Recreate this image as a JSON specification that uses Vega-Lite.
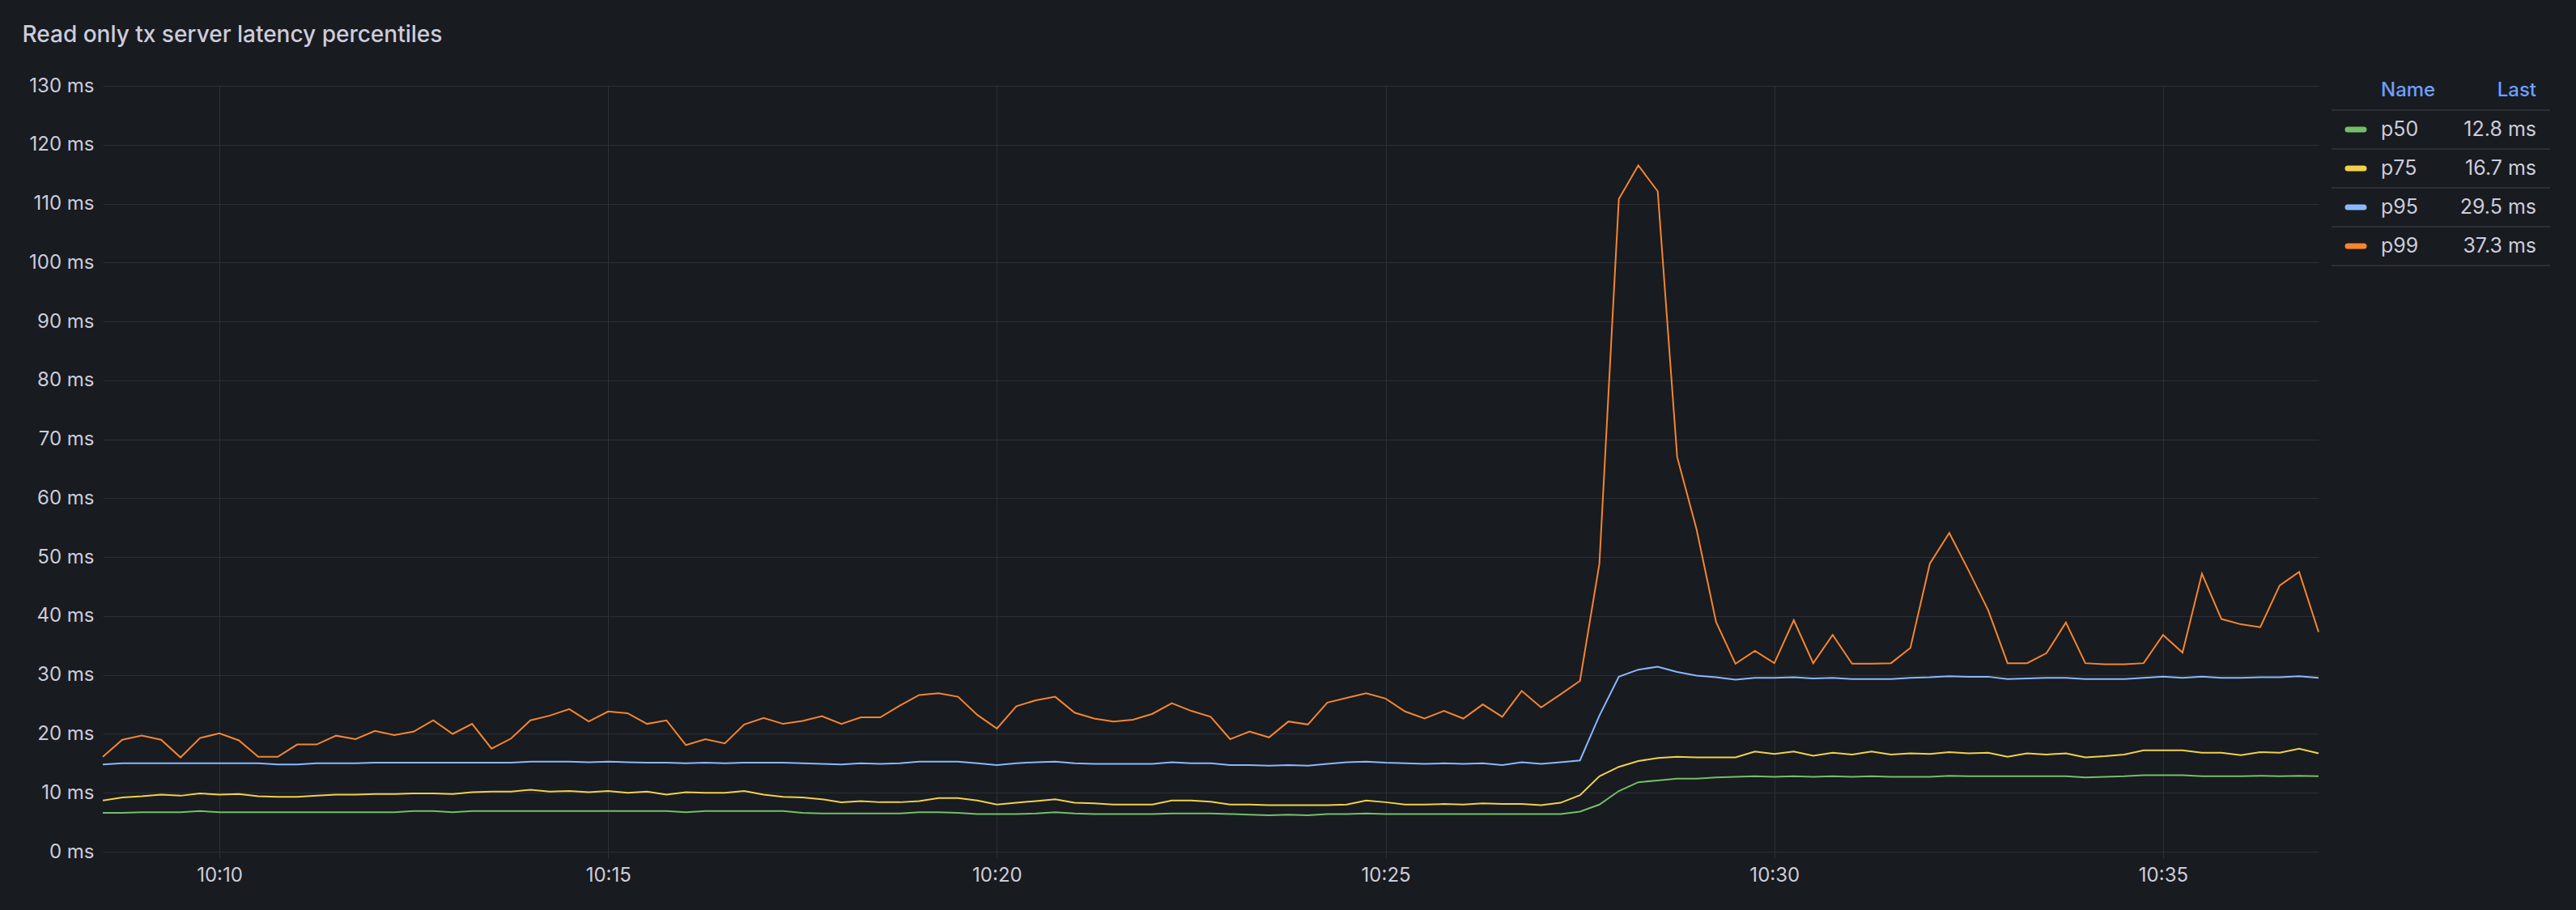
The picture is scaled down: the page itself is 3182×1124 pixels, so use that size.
{
  "$schema": "https://vega.github.io/schema/vega-lite/v6.json",
  "background": "#181b1f",
  "padding": {"left": 27, "top": 30, "right": 36, "bottom": 31},
  "title": {"text": "Read only tx server latency percentiles", "anchor": "start", "fontSize": 28, "fontWeight": 500, "color": "#ccccdc", "font": "Inter", "offset": 36, "dx": -8},
  "spacing": 11,
  "datasets": {
    "lat": [
      {"t":"2024-01-01T10:08:30","p50":6.6,"p75":8.7,"p95":14.8,"p99":16.1},
      {"t":"2024-01-01T10:08:45","p50":6.6,"p75":9.2,"p95":15.0,"p99":19.0},
      {"t":"2024-01-01T10:09:00","p50":6.7,"p75":9.4,"p95":15.0,"p99":19.7},
      {"t":"2024-01-01T10:09:15","p50":6.7,"p75":9.7,"p95":15.0,"p99":19.0},
      {"t":"2024-01-01T10:09:30","p50":6.7,"p75":9.5,"p95":15.0,"p99":16.0},
      {"t":"2024-01-01T10:09:45","p50":6.9,"p75":9.9,"p95":15.0,"p99":19.3},
      {"t":"2024-01-01T10:10:00","p50":6.7,"p75":9.7,"p95":15.0,"p99":20.1},
      {"t":"2024-01-01T10:10:15","p50":6.7,"p75":9.8,"p95":15.0,"p99":18.9},
      {"t":"2024-01-01T10:10:30","p50":6.7,"p75":9.4,"p95":15.0,"p99":16.1},
      {"t":"2024-01-01T10:10:45","p50":6.7,"p75":9.3,"p95":14.8,"p99":16.1},
      {"t":"2024-01-01T10:11:00","p50":6.7,"p75":9.3,"p95":14.8,"p99":18.2},
      {"t":"2024-01-01T10:11:15","p50":6.7,"p75":9.5,"p95":15.0,"p99":18.2},
      {"t":"2024-01-01T10:11:30","p50":6.7,"p75":9.7,"p95":15.0,"p99":19.7},
      {"t":"2024-01-01T10:11:45","p50":6.7,"p75":9.7,"p95":15.0,"p99":19.1},
      {"t":"2024-01-01T10:12:00","p50":6.7,"p75":9.8,"p95":15.1,"p99":20.5},
      {"t":"2024-01-01T10:12:15","p50":6.7,"p75":9.8,"p95":15.1,"p99":19.8},
      {"t":"2024-01-01T10:12:30","p50":6.9,"p75":9.9,"p95":15.1,"p99":20.4},
      {"t":"2024-01-01T10:12:45","p50":6.9,"p75":9.9,"p95":15.1,"p99":22.3},
      {"t":"2024-01-01T10:13:00","p50":6.7,"p75":9.8,"p95":15.1,"p99":20.0},
      {"t":"2024-01-01T10:13:15","p50":6.9,"p75":10.1,"p95":15.1,"p99":21.7},
      {"t":"2024-01-01T10:13:30","p50":6.9,"p75":10.2,"p95":15.1,"p99":17.5},
      {"t":"2024-01-01T10:13:45","p50":6.9,"p75":10.2,"p95":15.1,"p99":19.2},
      {"t":"2024-01-01T10:14:00","p50":6.9,"p75":10.5,"p95":15.3,"p99":22.3},
      {"t":"2024-01-01T10:14:15","p50":6.9,"p75":10.2,"p95":15.3,"p99":23.1},
      {"t":"2024-01-01T10:14:30","p50":6.9,"p75":10.3,"p95":15.3,"p99":24.2},
      {"t":"2024-01-01T10:14:45","p50":6.9,"p75":10.1,"p95":15.2,"p99":22.1},
      {"t":"2024-01-01T10:15:00","p50":6.9,"p75":10.3,"p95":15.3,"p99":23.8},
      {"t":"2024-01-01T10:15:15","p50":6.9,"p75":10.0,"p95":15.2,"p99":23.5},
      {"t":"2024-01-01T10:15:30","p50":6.9,"p75":10.2,"p95":15.1,"p99":21.7},
      {"t":"2024-01-01T10:15:45","p50":6.9,"p75":9.7,"p95":15.1,"p99":22.3},
      {"t":"2024-01-01T10:16:00","p50":6.7,"p75":10.1,"p95":15.0,"p99":18.1},
      {"t":"2024-01-01T10:16:15","p50":6.9,"p75":10.0,"p95":15.1,"p99":19.1},
      {"t":"2024-01-01T10:16:30","p50":6.9,"p75":10.0,"p95":15.0,"p99":18.4},
      {"t":"2024-01-01T10:16:45","p50":6.9,"p75":10.3,"p95":15.1,"p99":21.6},
      {"t":"2024-01-01T10:17:00","p50":6.9,"p75":9.7,"p95":15.1,"p99":22.7},
      {"t":"2024-01-01T10:17:15","p50":6.9,"p75":9.3,"p95":15.1,"p99":21.7},
      {"t":"2024-01-01T10:17:30","p50":6.6,"p75":9.2,"p95":15.0,"p99":22.2},
      {"t":"2024-01-01T10:17:45","p50":6.5,"p75":8.9,"p95":14.9,"p99":23.0},
      {"t":"2024-01-01T10:18:00","p50":6.5,"p75":8.4,"p95":14.8,"p99":21.7},
      {"t":"2024-01-01T10:18:15","p50":6.5,"p75":8.6,"p95":15.0,"p99":22.8},
      {"t":"2024-01-01T10:18:30","p50":6.5,"p75":8.4,"p95":14.9,"p99":22.8},
      {"t":"2024-01-01T10:18:45","p50":6.5,"p75":8.4,"p95":15.0,"p99":24.8},
      {"t":"2024-01-01T10:19:00","p50":6.7,"p75":8.6,"p95":15.3,"p99":26.6},
      {"t":"2024-01-01T10:19:15","p50":6.7,"p75":9.1,"p95":15.3,"p99":26.9},
      {"t":"2024-01-01T10:19:30","p50":6.6,"p75":9.1,"p95":15.3,"p99":26.3},
      {"t":"2024-01-01T10:19:45","p50":6.4,"p75":8.7,"p95":15.0,"p99":23.2},
      {"t":"2024-01-01T10:20:00","p50":6.4,"p75":8.0,"p95":14.7,"p99":20.9},
      {"t":"2024-01-01T10:20:15","p50":6.4,"p75":8.3,"p95":15.0,"p99":24.7},
      {"t":"2024-01-01T10:20:30","p50":6.5,"p75":8.6,"p95":15.2,"p99":25.7},
      {"t":"2024-01-01T10:20:45","p50":6.7,"p75":8.9,"p95":15.3,"p99":26.3},
      {"t":"2024-01-01T10:21:00","p50":6.5,"p75":8.3,"p95":15.0,"p99":23.6},
      {"t":"2024-01-01T10:21:15","p50":6.4,"p75":8.2,"p95":14.9,"p99":22.6},
      {"t":"2024-01-01T10:21:30","p50":6.4,"p75":8.0,"p95":14.9,"p99":22.1},
      {"t":"2024-01-01T10:21:45","p50":6.4,"p75":8.0,"p95":14.9,"p99":22.4},
      {"t":"2024-01-01T10:22:00","p50":6.4,"p75":8.0,"p95":14.9,"p99":23.4},
      {"t":"2024-01-01T10:22:15","p50":6.5,"p75":8.7,"p95":15.2,"p99":25.2},
      {"t":"2024-01-01T10:22:30","p50":6.5,"p75":8.7,"p95":15.0,"p99":23.9},
      {"t":"2024-01-01T10:22:45","p50":6.5,"p75":8.5,"p95":15.0,"p99":22.9},
      {"t":"2024-01-01T10:23:00","p50":6.4,"p75":8.0,"p95":14.7,"p99":19.1},
      {"t":"2024-01-01T10:23:15","p50":6.3,"p75":8.0,"p95":14.7,"p99":20.4},
      {"t":"2024-01-01T10:23:30","p50":6.2,"p75":7.9,"p95":14.6,"p99":19.4},
      {"t":"2024-01-01T10:23:45","p50":6.3,"p75":7.9,"p95":14.7,"p99":22.1},
      {"t":"2024-01-01T10:24:00","p50":6.2,"p75":7.9,"p95":14.6,"p99":21.6},
      {"t":"2024-01-01T10:24:15","p50":6.4,"p75":7.9,"p95":14.9,"p99":25.3},
      {"t":"2024-01-01T10:24:30","p50":6.4,"p75":8.0,"p95":15.2,"p99":26.1},
      {"t":"2024-01-01T10:24:45","p50":6.5,"p75":8.7,"p95":15.3,"p99":26.9},
      {"t":"2024-01-01T10:25:00","p50":6.4,"p75":8.4,"p95":15.1,"p99":26.0},
      {"t":"2024-01-01T10:25:15","p50":6.4,"p75":8.0,"p95":15.0,"p99":23.8},
      {"t":"2024-01-01T10:25:30","p50":6.4,"p75":8.0,"p95":14.9,"p99":22.6},
      {"t":"2024-01-01T10:25:45","p50":6.4,"p75":8.1,"p95":15.0,"p99":23.9},
      {"t":"2024-01-01T10:26:00","p50":6.4,"p75":8.0,"p95":14.9,"p99":22.6},
      {"t":"2024-01-01T10:26:15","p50":6.4,"p75":8.2,"p95":15.0,"p99":25.0},
      {"t":"2024-01-01T10:26:30","p50":6.4,"p75":8.1,"p95":14.7,"p99":22.9},
      {"t":"2024-01-01T10:26:45","p50":6.4,"p75":8.1,"p95":15.2,"p99":27.3},
      {"t":"2024-01-01T10:27:00","p50":6.4,"p75":7.9,"p95":14.9,"p99":24.5},
      {"t":"2024-01-01T10:27:15","p50":6.4,"p75":8.3,"p95":15.2,"p99":26.7},
      {"t":"2024-01-01T10:27:30","p50":6.8,"p75":9.6,"p95":15.5,"p99":29.0},
      {"t":"2024-01-01T10:27:45","p50":8.0,"p75":12.8,"p95":23.1,"p99":48.9},
      {"t":"2024-01-01T10:28:00","p50":10.3,"p75":14.4,"p95":29.7,"p99":110.8},
      {"t":"2024-01-01T10:28:15","p50":11.8,"p75":15.4,"p95":30.9,"p99":116.5},
      {"t":"2024-01-01T10:28:30","p50":12.1,"p75":15.9,"p95":31.4,"p99":112.1},
      {"t":"2024-01-01T10:28:45","p50":12.4,"p75":16.1,"p95":30.5,"p99":67.0},
      {"t":"2024-01-01T10:29:00","p50":12.4,"p75":16.0,"p95":29.9,"p99":54.7},
      {"t":"2024-01-01T10:29:15","p50":12.6,"p75":16.0,"p95":29.6,"p99":39.0},
      {"t":"2024-01-01T10:29:30","p50":12.7,"p75":16.0,"p95":29.2,"p99":31.9},
      {"t":"2024-01-01T10:29:45","p50":12.8,"p75":17.0,"p95":29.5,"p99":34.1},
      {"t":"2024-01-01T10:30:00","p50":12.7,"p75":16.6,"p95":29.5,"p99":32.0},
      {"t":"2024-01-01T10:30:15","p50":12.8,"p75":17.0,"p95":29.6,"p99":39.3},
      {"t":"2024-01-01T10:30:30","p50":12.7,"p75":16.3,"p95":29.4,"p99":32.0},
      {"t":"2024-01-01T10:30:45","p50":12.8,"p75":16.8,"p95":29.5,"p99":36.8},
      {"t":"2024-01-01T10:31:00","p50":12.7,"p75":16.5,"p95":29.3,"p99":31.9},
      {"t":"2024-01-01T10:31:15","p50":12.8,"p75":17.0,"p95":29.3,"p99":31.9},
      {"t":"2024-01-01T10:31:30","p50":12.7,"p75":16.5,"p95":29.3,"p99":32.0},
      {"t":"2024-01-01T10:31:45","p50":12.7,"p75":16.7,"p95":29.5,"p99":34.6},
      {"t":"2024-01-01T10:32:00","p50":12.7,"p75":16.6,"p95":29.6,"p99":48.9},
      {"t":"2024-01-01T10:32:15","p50":12.9,"p75":16.9,"p95":29.8,"p99":54.1},
      {"t":"2024-01-01T10:32:30","p50":12.8,"p75":16.7,"p95":29.7,"p99":47.7},
      {"t":"2024-01-01T10:32:45","p50":12.8,"p75":16.8,"p95":29.7,"p99":41.0},
      {"t":"2024-01-01T10:33:00","p50":12.8,"p75":16.1,"p95":29.3,"p99":32.0},
      {"t":"2024-01-01T10:33:15","p50":12.8,"p75":16.7,"p95":29.4,"p99":32.0},
      {"t":"2024-01-01T10:33:30","p50":12.8,"p75":16.5,"p95":29.5,"p99":33.7},
      {"t":"2024-01-01T10:33:45","p50":12.8,"p75":16.7,"p95":29.5,"p99":38.9},
      {"t":"2024-01-01T10:34:00","p50":12.6,"p75":16.0,"p95":29.3,"p99":32.0},
      {"t":"2024-01-01T10:34:15","p50":12.7,"p75":16.2,"p95":29.3,"p99":31.8},
      {"t":"2024-01-01T10:34:30","p50":12.8,"p75":16.5,"p95":29.3,"p99":31.8},
      {"t":"2024-01-01T10:34:45","p50":13.0,"p75":17.2,"p95":29.5,"p99":32.0},
      {"t":"2024-01-01T10:35:00","p50":13.0,"p75":17.2,"p95":29.7,"p99":36.8},
      {"t":"2024-01-01T10:35:15","p50":13.0,"p75":17.2,"p95":29.5,"p99":33.8},
      {"t":"2024-01-01T10:35:30","p50":12.8,"p75":16.8,"p95":29.7,"p99":47.2},
      {"t":"2024-01-01T10:35:45","p50":12.8,"p75":16.8,"p95":29.5,"p99":39.5},
      {"t":"2024-01-01T10:36:00","p50":12.8,"p75":16.4,"p95":29.5,"p99":38.6},
      {"t":"2024-01-01T10:36:15","p50":12.9,"p75":16.9,"p95":29.6,"p99":38.1},
      {"t":"2024-01-01T10:36:30","p50":12.8,"p75":16.8,"p95":29.6,"p99":45.2},
      {"t":"2024-01-01T10:36:45","p50":12.9,"p75":17.5,"p95":29.8,"p99":47.5},
      {"t":"2024-01-01T10:37:00","p50":12.8,"p75":16.7,"p95":29.5,"p99":37.3}
    ],
    "hdr": [{"series": "hdr", "name": "Name", "last": "Last"}]
  },
  "hconcat": [
    {
      "width": 2737,
      "height": 946,
      "data": {"name": "lat"},
      "transform": [{"fold": ["p50", "p75", "p95", "p99"], "as": ["series", "value"]}],
      "mark": {"type": "line", "strokeWidth": 2},
      "encoding": {
        "x": {
          "field": "t", "type": "temporal", "title": null,
          "axis": {"format": "%H:%M", "tickCount": 6, "grid": true, "ticks": true, "tickSize": 8, "tickColor": "#2c2f35", "labelPadding": 9, "domain": false}
        },
        "y": {
          "field": "value", "type": "quantitative", "title": null,
          "scale": {"domain": [0, 130], "nice": false},
          "axis": {"tickCount": 13, "labelExpr": "datum.value + ' ms'", "ticks": false, "labelPadding": 11, "domain": false, "grid": true}
        },
        "color": {
          "field": "series", "type": "nominal",
          "scale": {"domain": ["p50", "p75", "p95", "p99"], "range": ["#73bf69", "#f0d14a", "#8ab8ff", "#f5852f"]},
          "legend": null
        }
      }
    },
    {
      "width": 270,
      "height": 240,
      "layer": [
        {
          "data": {"name": "lat"},
          "transform": [
            {"window": [{"op": "row_number", "as": "rn"}], "sort": [{"field": "t", "order": "descending"}]},
            {"filter": "datum.rn == 1"},
            {"fold": ["p50", "p75", "p95", "p99"], "as": ["series", "value"]}
          ],
          "mark": {"type": "rule", "color": "#2c2f35", "strokeWidth": 2, "yOffset": 6},
          "encoding": {
            "y": {"field": "series", "type": "nominal", "scale": {"type": "band", "domain": ["hdr", "p50", "p75", "p95", "p99"], "paddingInner": 0, "paddingOuter": 0}, "axis": null},
            "x": {"datum": 0, "type": "quantitative", "scale": {"domain": [0, 270], "nice": false}, "axis": null},
            "x2": {"datum": 270}
          }
        },
        {
          "data": {"name": "hdr"},
          "mark": {"type": "rule", "color": "#2c2f35", "strokeWidth": 2, "yOffset": 6},
          "encoding": {
            "y": {"field": "series", "type": "nominal"},
            "x": {"datum": 0, "type": "quantitative"},
            "x2": {"datum": 270}
          }
        },
        {
          "data": {"name": "lat"},
          "transform": [
            {"window": [{"op": "row_number", "as": "rn"}], "sort": [{"field": "t", "order": "descending"}]},
            {"filter": "datum.rn == 1"},
            {"fold": ["p50", "p75", "p95", "p99"], "as": ["series", "value"]}
          ],
          "mark": {"type": "rule", "strokeWidth": 7, "strokeCap": "round", "yOffset": -18},
          "encoding": {
            "y": {"field": "series", "type": "nominal"},
            "x": {"datum": 20, "type": "quantitative"},
            "x2": {"datum": 40},
            "color": {"field": "series", "type": "nominal", "scale": {"domain": ["p50", "p75", "p95", "p99"], "range": ["#73bf69", "#f0d14a", "#8ab8ff", "#f5852f"]}, "legend": null}
          }
        },
        {
          "data": {"name": "lat"},
          "transform": [
            {"window": [{"op": "row_number", "as": "rn"}], "sort": [{"field": "t", "order": "descending"}]},
            {"filter": "datum.rn == 1"},
            {"fold": ["p50", "p75", "p95", "p99"], "as": ["series", "value"]}
          ],
          "mark": {"type": "text", "align": "left", "baseline": "middle", "fontSize": 25, "color": "#ccccdc", "font": "Inter", "yOffset": -18},
          "encoding": {
            "y": {"field": "series", "type": "nominal"},
            "x": {"datum": 61, "type": "quantitative"},
            "text": {"field": "series", "type": "nominal"}
          }
        },
        {
          "data": {"name": "lat"},
          "transform": [
            {"window": [{"op": "row_number", "as": "rn"}], "sort": [{"field": "t", "order": "descending"}]},
            {"filter": "datum.rn == 1"},
            {"fold": ["p50", "p75", "p95", "p99"], "as": ["series", "value"]},
            {"calculate": "format(datum.value, '.1f') + ' ms'", "as": "label"}
          ],
          "mark": {"type": "text", "align": "right", "baseline": "middle", "fontSize": 25, "color": "#ccccdc", "font": "Inter", "yOffset": -18},
          "encoding": {
            "y": {"field": "series", "type": "nominal"},
            "x": {"datum": 253, "type": "quantitative"},
            "text": {"field": "label", "type": "nominal"}
          }
        },
        {
          "data": {"name": "hdr"},
          "mark": {"type": "text", "align": "left", "baseline": "middle", "fontSize": 24, "fontWeight": 500, "color": "#6e9fff", "font": "Inter", "yOffset": -18},
          "encoding": {
            "y": {"field": "series", "type": "nominal"},
            "x": {"datum": 61, "type": "quantitative"},
            "text": {"field": "name", "type": "nominal"}
          }
        },
        {
          "data": {"name": "hdr"},
          "mark": {"type": "text", "align": "right", "baseline": "middle", "fontSize": 24, "fontWeight": 500, "color": "#6e9fff", "font": "Inter", "yOffset": -18},
          "encoding": {
            "y": {"field": "series", "type": "nominal"},
            "x": {"datum": 253, "type": "quantitative"},
            "text": {"field": "last", "type": "nominal"}
          }
        }
      ]
    }
  ],
  "config": {
    "font": "Inter",
    "view": {"stroke": null},
    "axis": {"labelFont": "Inter", "labelFontSize": 24, "labelColor": "#ccccdc", "gridColor": "#2c2f35", "gridWidth": 1, "domain": false}
  }
}
